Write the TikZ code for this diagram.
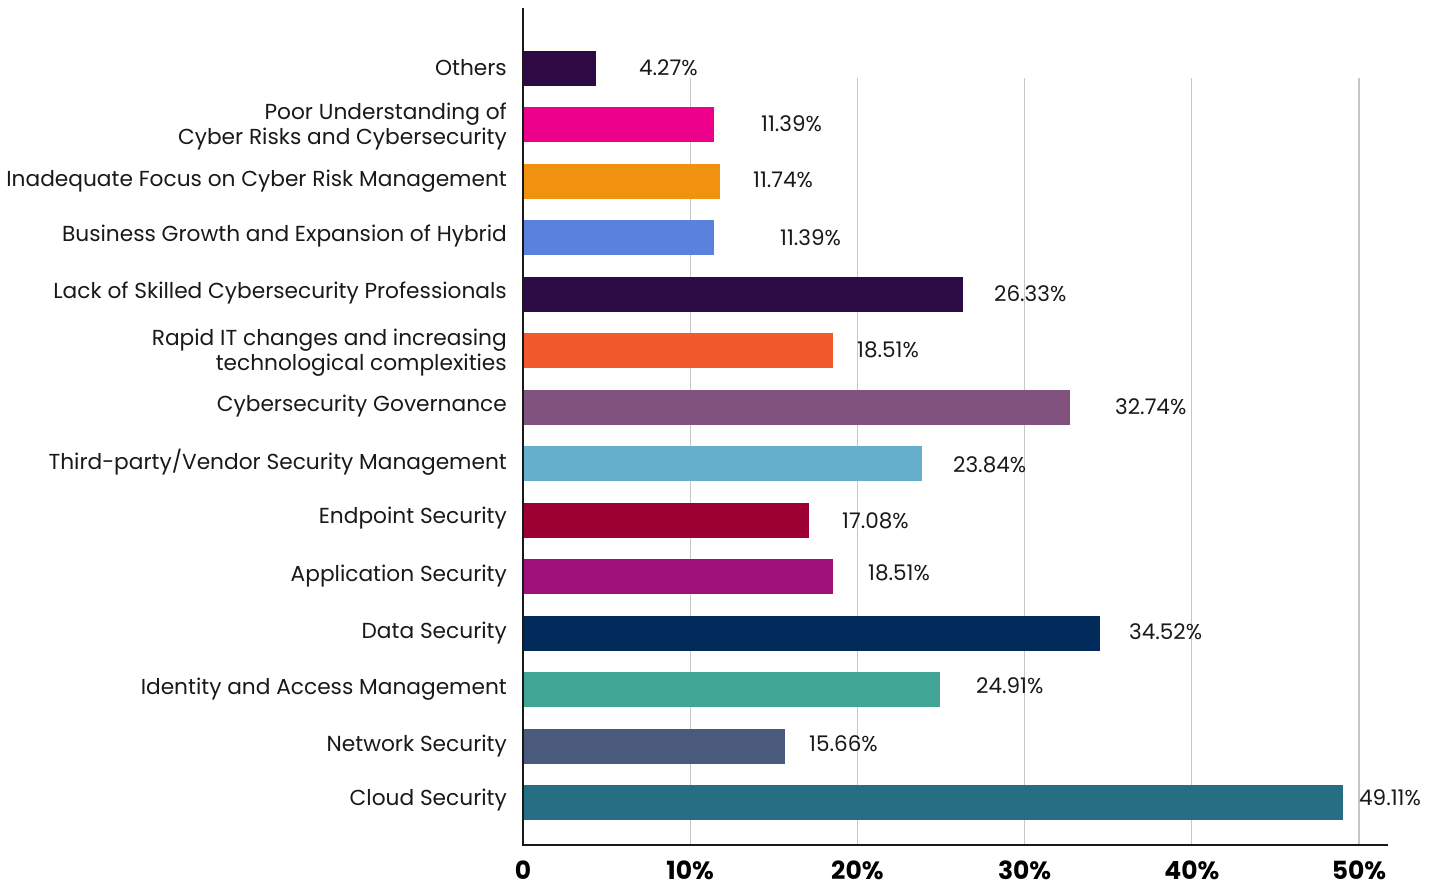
\documentclass[tikz,border=0pt]{standalone}
\usepackage{fontspec}
\setmainfont{Poppins}
\begin{document}
\begin{tikzpicture}[x=1pt,y=-1pt,
  catlab/.style={anchor=east,align=right,font=\fontsize{21.7}{25}\selectfont,text=black!90,inner sep=0pt},
  vallab/.style={anchor=west,font=\fontsize{21.5}{25}\selectfont,text=black!90,inner sep=0pt},
  ticklab/.style={anchor=center,font=\bfseries\fontsize{25}{28}\selectfont,inner sep=0pt},
  grid/.style={draw=black!22,line width=1.3pt},
  axis/.style={draw=black!90,line width=2.6pt}]
\definecolor{c1}{HTML}{2E0A45}
\definecolor{c2}{HTML}{EC008C}
\definecolor{c3}{HTML}{F0920F}
\definecolor{c4}{HTML}{5A82DC}
\definecolor{c5}{HTML}{2D0B45}
\definecolor{c6}{HTML}{F05A2C}
\definecolor{c7}{HTML}{82527E}
\definecolor{c8}{HTML}{66AFCC}
\definecolor{c9}{HTML}{9E0033}
\definecolor{c10}{HTML}{A0107A}
\definecolor{c11}{HTML}{022B5B}
\definecolor{c12}{HTML}{40A594}
\definecolor{c13}{HTML}{4A5A7C}
\definecolor{c14}{HTML}{256E84}
\useasboundingbox (0,0) rectangle (1440,886);
% grid lines
\foreach \k in {1,...,5}{
  \draw[grid] (523+167.2*\k,78) -- (523+167.2*\k,845);
}
% bars and value labels
\foreach \i/\v/\lx/\ly in {
  0/4.27/639/68, 1/11.39/761/124, 2/11.74/753/180, 3/11.39/780/238,
  4/26.33/994/294, 5/18.51/857/350, 6/32.74/1115/407, 7/23.84/953/465,
  8/17.08/842/521, 9/18.51/868/573, 10/34.52/1129/632, 11/24.91/976/686,
  12/15.66/809/744, 13/49.11/1359/798}{
  \pgfmathtruncatemacro{\ci}{\i+1}
  \fill[c\ci] (524,68.5+56.46*\i-17.5) rectangle (524.5+16.66*\v,68.5+56.46*\i+17.5);
  \node[vallab] (v\i) at (\lx,\ly) {\v\%};
}
% category labels
\node[catlab] (l0) at (507,68) {Others};
\node[catlab] (l1) at (507,127) {Poor Understanding of\\Cyber Risks and Cybersecurity};
\node[catlab] (l2) at (507,181) {Inadequate Focus on Cyber Risk Management};
\node[catlab] (l3) at (507,236) {Business Growth and Expansion of Hybrid};
\node[catlab] (l4) at (507,293) {Lack of Skilled Cybersecurity Professionals};
\node[catlab] (l5) at (507,353) {Rapid IT changes and increasing\\technological complexities};
\node[catlab] (l6) at (507,406) {Cybersecurity Governance};
\node[catlab] (l7) at (507,462) {Third-party/Vendor Security Management};
\node[catlab] (l8) at (507,518) {Endpoint Security};
\node[catlab] (l9) at (507,576) {Application Security};
\node[catlab] (l10) at (507,633) {Data Security};
\node[catlab] (l11) at (507,689) {Identity and Access Management};
\node[catlab] (l12) at (507,746) {Network Security};
\node[catlab] (l13) at (507,800) {Cloud Security};
% axes
\coordinate (ytop) at (523,8);
\coordinate (orig) at (523,845);
\coordinate (xend) at (1388,845);
\draw[axis] (ytop) -- (orig) -- (xend);
% tick labels
\node[ticklab] (t0) at (523,870) {0};
\foreach \k in {1,...,5}{
  \node[ticklab] (t\k) at (523+167.2*\k,870) {\k0\%};
}
\end{tikzpicture}
\end{document}
